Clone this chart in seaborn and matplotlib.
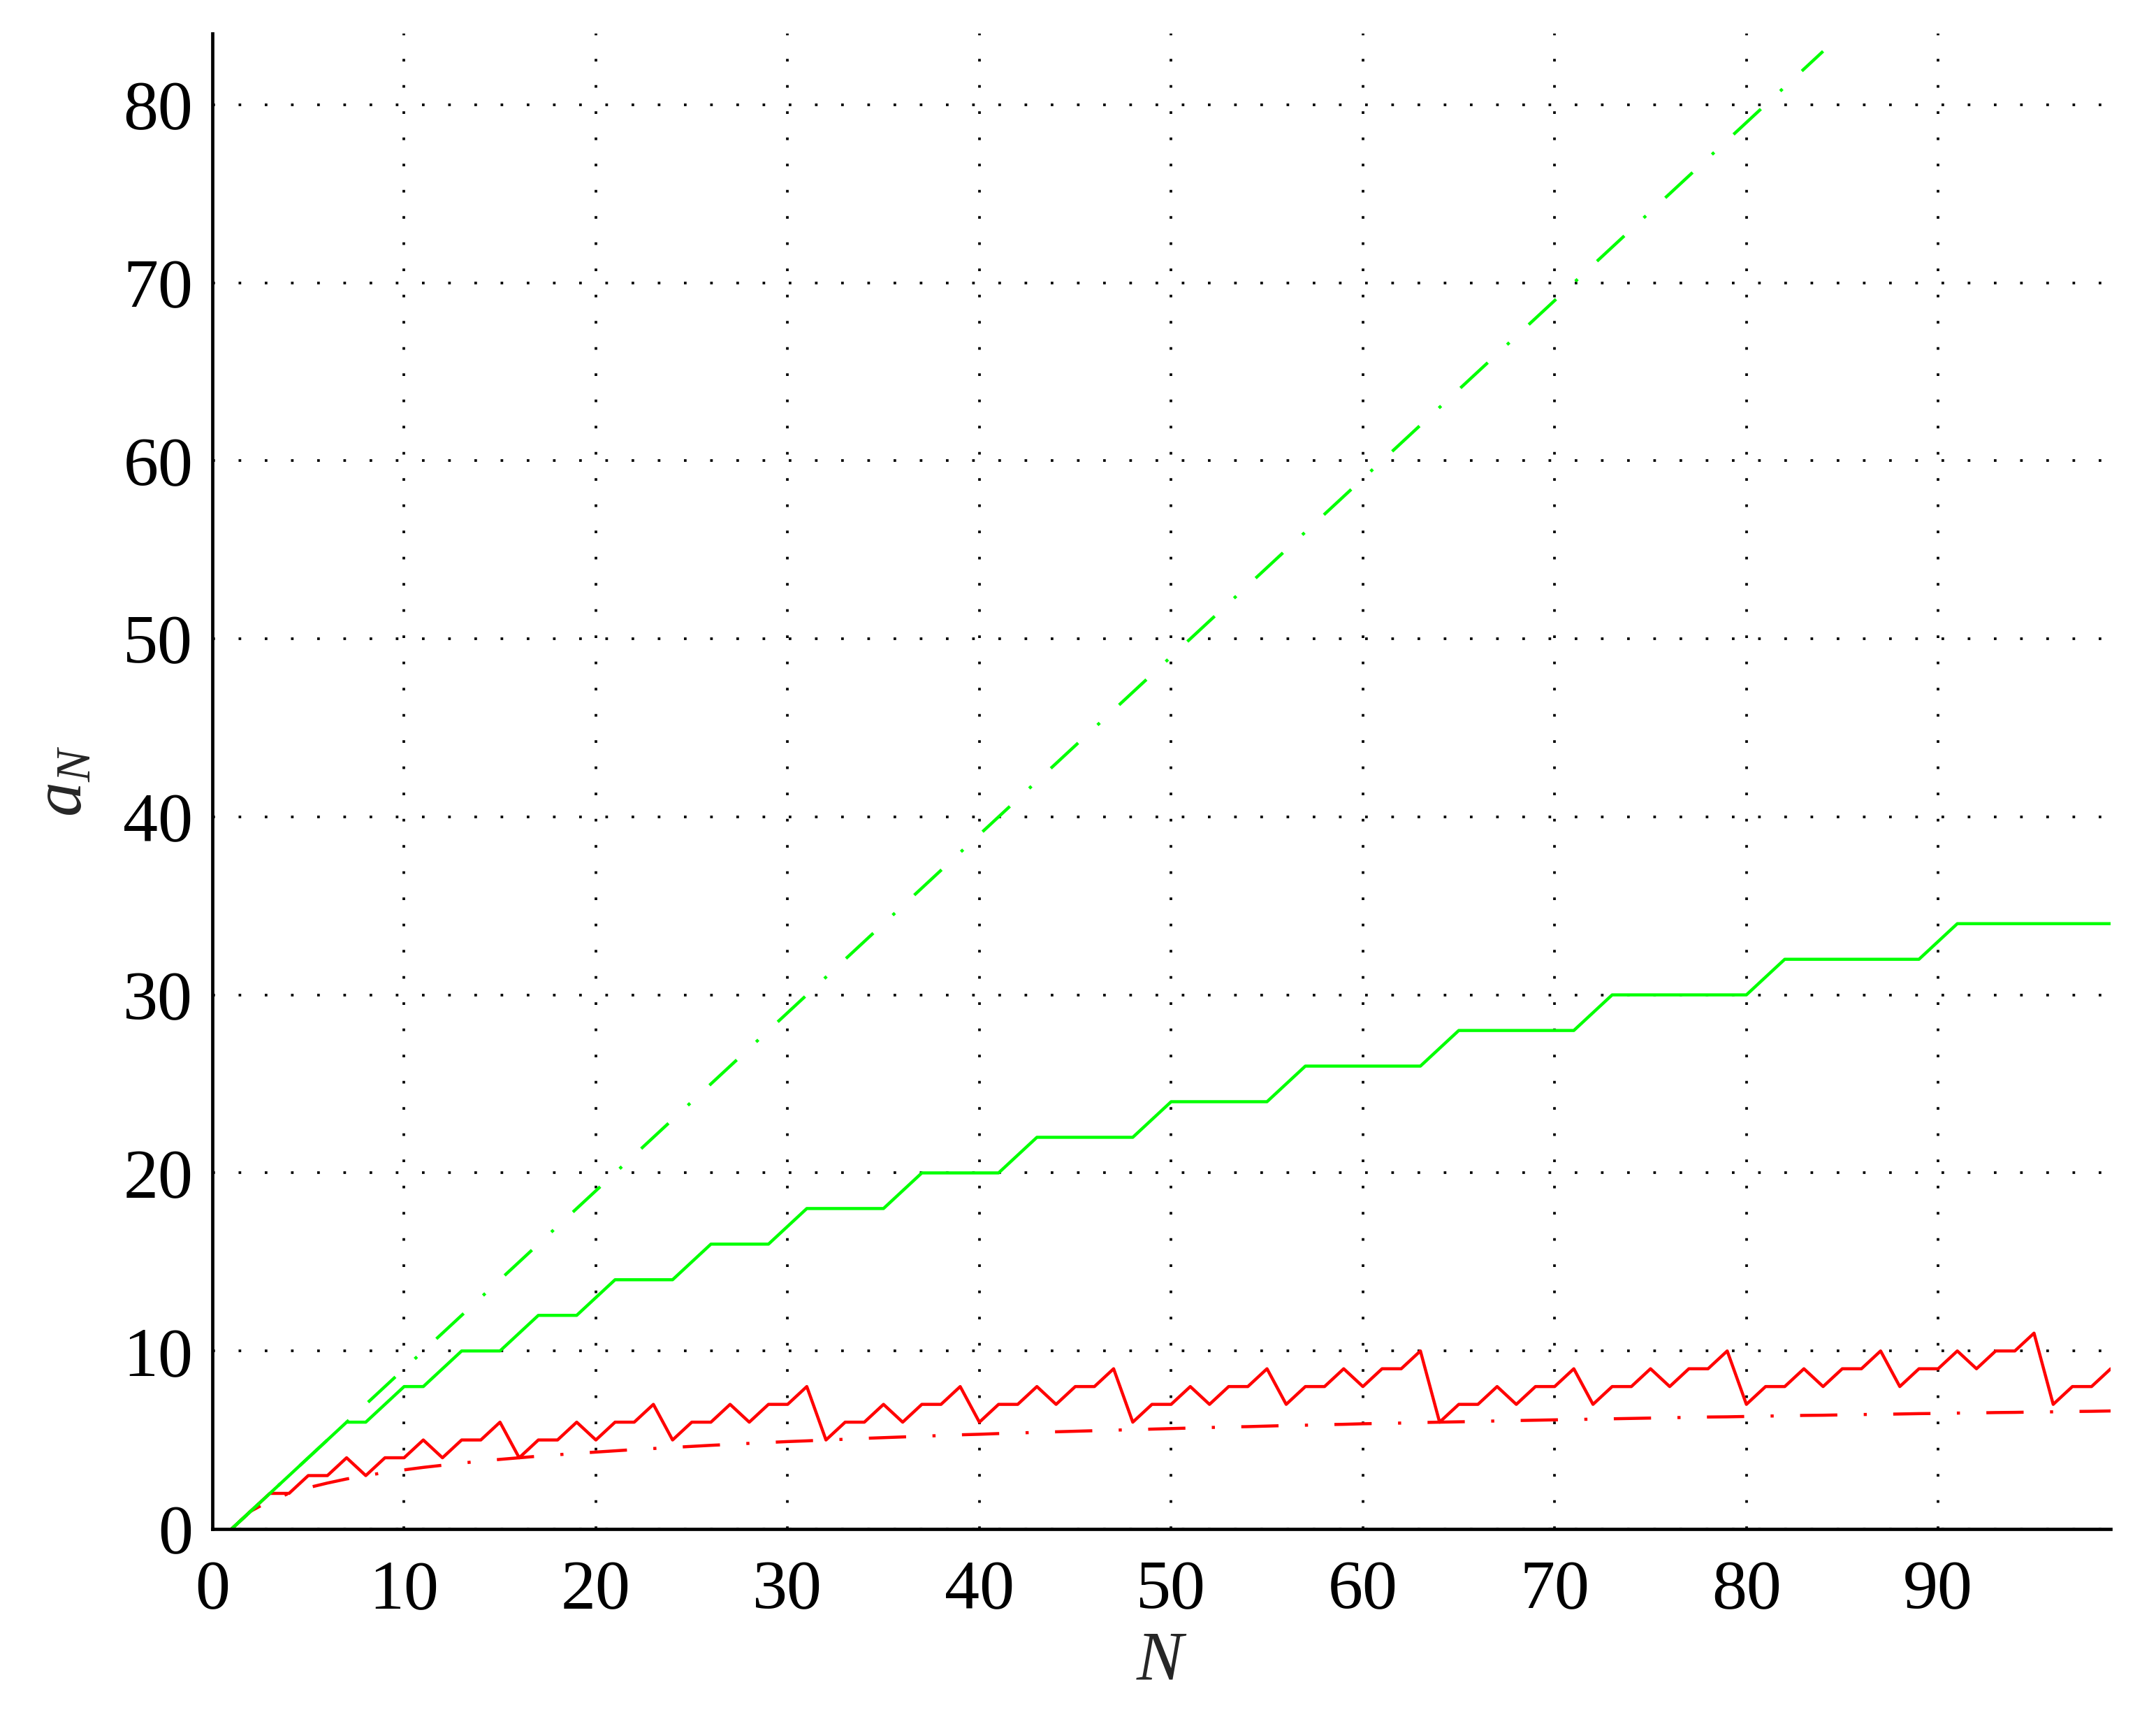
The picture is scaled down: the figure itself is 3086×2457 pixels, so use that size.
import matplotlib
matplotlib.use("Agg")
import matplotlib.pyplot as plt
import seaborn as sns

# N axis
N = list(range(1, 100))

# red solid (jagged)
binary_steps = [0, 1, 2, 2, 3, 3, 4, 3, 4, 4, 5, 4, 5, 5, 6, 4, 5, 5, 6, 5,
                6, 6, 7, 5, 6, 6, 7, 6, 7, 7, 8,
                5, 6, 6, 7, 6, 7, 7, 8, 6, 7, 7, 8, 7, 8, 8, 9,
                6, 7, 7, 8, 7, 8, 8, 9, 7, 8, 8, 9, 8, 9, 9, 10,
                6, 7, 7, 8, 7, 8, 8, 9, 7, 8, 8, 9, 8, 9, 9, 10,
                7, 8, 8, 9, 8, 9, 9, 10, 8, 9, 9, 10, 9, 10, 10, 11,
                7, 8, 8, 9]

# red dash-dot (smooth lower curve)
lower_curve = [0.00, 1.00, 1.58, 2.00, 2.32, 2.58, 2.81, 3.00, 3.17, 3.32,
               3.46, 3.58, 3.70, 3.81, 3.91, 4.00, 4.09, 4.17, 4.25, 4.32,
               4.39, 4.46, 4.52, 4.58, 4.64, 4.70, 4.75, 4.81, 4.86, 4.91,
               4.95, 5.00, 5.04, 5.09, 5.13, 5.17, 5.21, 5.25, 5.29, 5.32,
               5.36, 5.39, 5.43, 5.46, 5.49, 5.52, 5.55, 5.58, 5.61, 5.64,
               5.67, 5.70, 5.73, 5.75, 5.78, 5.81, 5.83, 5.86, 5.88, 5.91,
               5.93, 5.95, 5.98, 6.00, 6.02, 6.04, 6.07, 6.09, 6.11, 6.13,
               6.15, 6.17, 6.19, 6.21, 6.23, 6.25, 6.27, 6.29, 6.30, 6.32,
               6.34, 6.36, 6.38, 6.39, 6.41, 6.43, 6.44, 6.46, 6.48, 6.49,
               6.51, 6.52, 6.54, 6.55, 6.57, 6.58, 6.60, 6.61, 6.63]

# green solid (staircase)
green_steps = [0, 1, 2, 3, 4, 5, 6, 6, 7, 8,
               8, 9, 10, 10, 10, 11, 12, 12, 12, 13,
               14, 14, 14, 14, 15, 16, 16, 16, 16, 17,
               18, 18, 18, 18, 18, 19, 20, 20, 20, 20,
               20, 21, 22, 22, 22, 22, 22, 22, 23, 24,
               24, 24, 24, 24, 24, 25, 26, 26, 26, 26,
               26, 26, 26, 27, 28, 28, 28, 28, 28, 28,
               28, 29, 30, 30, 30, 30, 30, 30, 30, 30,
               31, 32, 32, 32, 32, 32, 32, 32, 32, 33,
               34, 34, 34, 34, 34, 34, 34, 34, 34]

# green dash-dot (straight line)
upper_n = [1, 84]
upper_a = [0, 83]

x_ticks = [0, 10, 20, 30, 40, 50, 60, 70, 80, 90]
y_ticks = [0, 10, 20, 30, 40, 50, 60, 70, 80]

sns.set_style("white")
plt.rcParams['font.family'] = ['Liberation Serif', 'DejaVu Serif']
plt.rcParams['mathtext.fontset'] = 'custom'
plt.rcParams['mathtext.rm'] = 'Liberation Serif'
plt.rcParams['mathtext.it'] = 'Liberation Serif:italic'

fig, ax = plt.subplots(figsize=(15.43, 12.285), dpi=200)
fig.subplots_adjust(left=0.0985, right=0.979, bottom=0.1095, top=0.9805)

lw = 1.6
dashdot = (0, (12, 8.5, 1, 8.5))
red = '#ff0000'
green = '#00ff00'

sns.lineplot(x=N, y=binary_steps, color=red, linewidth=lw, estimator=None, ax=ax)
sns.lineplot(x=N, y=lower_curve, color=red, linewidth=lw, linestyle=dashdot,
             estimator=None, ax=ax)
sns.lineplot(x=N, y=green_steps, color=green, linewidth=lw, estimator=None, ax=ax)
sns.lineplot(x=upper_n, y=upper_a, color=green, linewidth=lw, linestyle=dashdot,
             estimator=None, ax=ax)

ax.set_xlim(0, 99)
ax.set_ylim(0, 84)
ax.set_xticks(x_ticks)
ax.set_yticks(y_ticks)
ax.grid(True, color='black', linestyle=(0, (1, 9)), linewidth=1.35)

for side in ['top', 'right']:
    ax.spines[side].set_visible(False)
for side in ['left', 'bottom']:
    ax.spines[side].set_linewidth(1.7)
    ax.spines[side].set_color('black')

ax.tick_params(axis='both', direction='in', length=9, width=1.7,
               labelsize=36, colors='black')
ax.tick_params(axis='x', pad=16)
ax.tick_params(axis='y', pad=10)

ax.set_xlabel('$N$', fontsize=36, labelpad=4)
ax.set_ylabel('$a_N$', fontsize=36, labelpad=14)

fig.savefig('out.png', dpi=200, facecolor='white')
